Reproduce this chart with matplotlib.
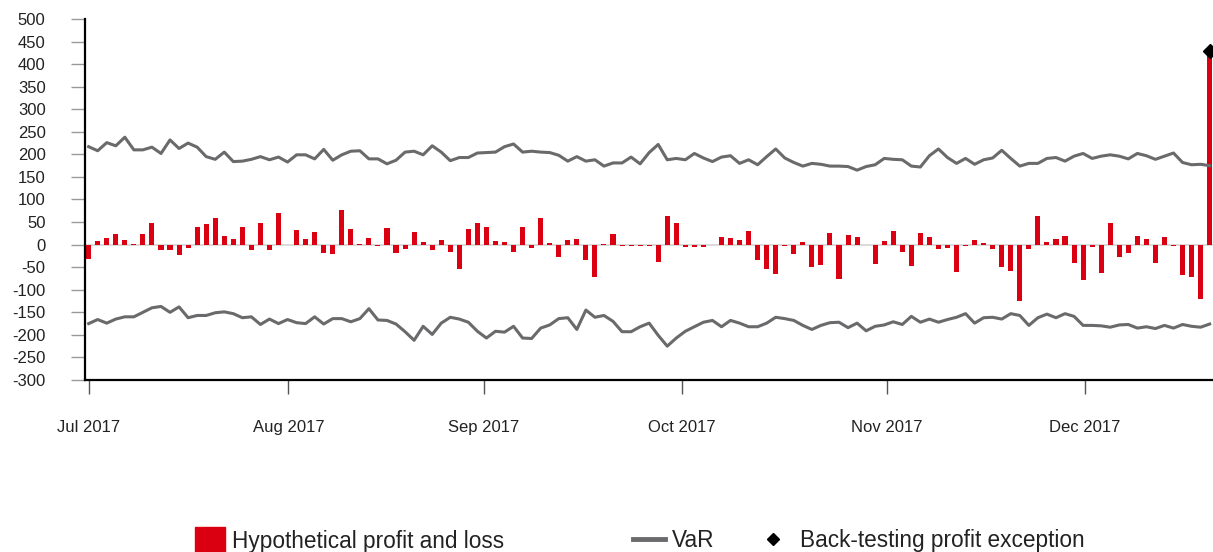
# Back-testing chart: daily hypothetical P&L against VaR, Jul-Dec 2017
import matplotlib.pyplot as plt
from matplotlib.patches import Patch
from matplotlib.lines import Line2D
import numpy as np

plt.rcParams['font.family'] = ['Liberation Sans', 'DejaVu Sans']
plt.rcParams['axes.unicode_minus'] = False

# Month labels and where they fall on the trading-day index
month_labels = ['Jul 2017', 'Aug 2017', 'Sep 2017', 'Oct 2017', 'Nov 2017', 'Dec 2017']
month_pos = [0, 22.1, 43.7, 65.6, 88.3, 110.2]

# Hypothetical profit and loss per trading day
pnl = [
    -32, 7, 15, 23, 10, 1, 24, 48, -13, -13, -23, -7, 39, 46, 60, 18, 13, 39, -13, 47, -11, 71, 0, 32, 13,
    27, -18, -20, 77, 35, 1, 15, -4, 37, -19, -10, 28, 5, -13, 11, -17, -55, 35, 49, 38, 7, 6, -17, 38, -8,
    60, 3, -27, 10, 12, -35, -72, 1, 23, -4, -4, -4, -4, -39, 63, 49, -5, -5, -5, 0, 16, 14, 10, 31, -35,
    -55, -66, -4, -21, 6, -50, -45, 25, -76, 21, 16, -1, -44, 8, 30, -17, -47, 26, 17, -10, -7, -60, -4, 11, 4,
    -10, -49, -59, -126, -9, 64, 6, 12, 19, -40, -78, -5, -63, 48, -27, -18, 20, 13, -41, 16, -4, -68, -72, -120, 430,
]

# VaR, upper and lower band
var_upper = [
    217, 208, 226, 219, 238, 210, 210, 216, 202, 232, 213, 225, 216, 195, 189, 205, 184, 185, 189, 195, 188, 194, 183, 199, 199,
    190, 211, 187, 199, 207, 208, 190, 190, 179, 187, 205, 207, 199, 219, 205, 186, 193, 193, 203, 204, 205, 217, 223, 205, 207,
    205, 204, 198, 185, 195, 185, 188, 174, 181, 181, 194, 179, 204, 222, 188, 191, 188, 202, 192, 184, 194, 197, 180, 188, 177,
    195, 212, 192, 182, 174, 180, 178, 174, 174, 173, 165, 173, 177, 191, 189, 188, 174, 172, 197, 212, 193, 180, 191, 178, 188,
    192, 209, 191, 174, 180, 180, 191, 193, 185, 196, 202, 191, 196, 199, 196, 190, 202, 197, 189, 196, 203, 182, 177, 178, 175,
]
var_lower = [
    -175, -166, -174, -165, -160, -160, -150, -140, -137, -150, -138, -162, -157, -157, -151, -149, -153, -162, -160, -177, -165, -175, -166, -173, -175,
    -160, -176, -164, -164, -171, -164, -142, -167, -168, -176, -193, -212, -181, -199, -174, -161, -165, -172, -192, -207, -192, -194, -181, -207, -208,
    -185, -178, -164, -162, -188, -145, -161, -157, -170, -193, -193, -182, -174, -201, -225, -207, -192, -182, -172, -168, -182, -168, -174, -182, -182,
    -174, -161, -164, -168, -179, -188, -179, -173, -172, -184, -174, -191, -181, -178, -171, -177, -159, -172, -165, -172, -166, -161, -153, -174, -162,
    -161, -165, -153, -157, -179, -162, -154, -162, -153, -159, -179, -179, -180, -183, -178, -177, -185, -182, -186, -179, -185, -177, -181, -183, -176,
]

# Days where profit exceeded VaR
exception_days = [124]

red = '#db0011'
grey = '#6a6a6c'

days = np.arange(len(pnl))

fig = plt.figure(figsize=(12.13, 5.52), dpi=100)
ax = fig.add_axes([84.5 / 1213, 0.3116, 1 - 84.5 / 1213, 0.654])

ax.axhline(0, color='#d4d4d4', linewidth=1.2, zorder=1)
ax.bar(days, pnl, width=0.56, color=red, zorder=2)
ax.plot(days, var_upper, color=grey, linewidth=2.2, zorder=3)
ax.plot(days, var_lower, color=grey, linewidth=2.2, zorder=3)
ax.plot(exception_days, [pnl[d] for d in exception_days], 'D', color='black',
        markersize=7, zorder=4, clip_on=False)

ax.set_xlim(-0.46, 124.37)
ax.set_ylim(-300, 500)
ax.set_yticks(range(-300, 501, 50))
ax.set_xticks(month_pos)
ax.set_xticklabels(month_labels)

for side in ['top', 'right']:
    ax.spines[side].set_visible(False)
for side in ['left', 'bottom']:
    ax.spines[side].set_linewidth(1.6)
    ax.spines[side].set_color('black')

ax.tick_params(axis='y', length=10, width=1, color='#9a9a9a', pad=18,
               labelsize=12, labelcolor='#222222')
ax.tick_params(axis='x', length=10, width=1, color='#555555', pad=19,
               labelsize=12, labelcolor='#222222')

# Legend, three separate entries spaced like the original
leg_y = 0.021
legend_items = [
    (Patch(color=red), 'Hypothetical profit and loss', 195, 1.33, 1.4, 0.3),
    (Line2D([], [], color=grey, linewidth=3.5), 'VaR', 633, 1.42, 0.7, 0.3),
    (Line2D([], [], marker='D', color='black', linestyle='none', markersize=6.5),
     'Back-testing profit exception', 762, 1.0, 0.7, 0.7),
]
for handle, label, x_px, hl, hh, tp in legend_items:
    fig.legend(handles=[handle], labels=[label], loc='center left',
               bbox_to_anchor=(x_px / 1213, leg_y), frameon=False,
               borderpad=0, borderaxespad=0, handlelength=hl,
               handleheight=hh, handletextpad=tp, fontsize=16.3,
               labelcolor='#222222')

fig.savefig('out.png', dpi=100)
